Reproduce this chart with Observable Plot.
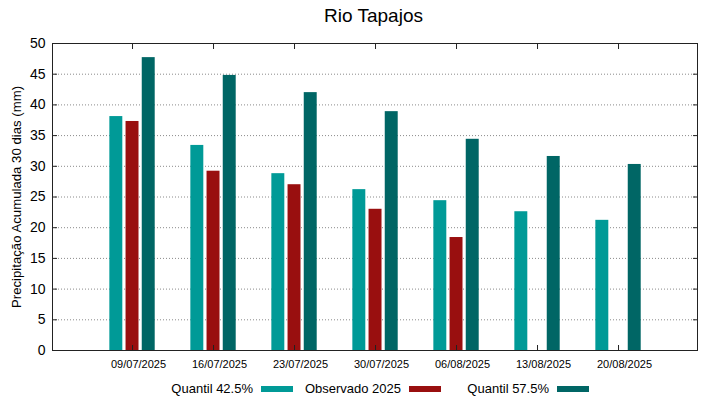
<!DOCTYPE html>
<html><head><meta charset="utf-8">
<script src="https://cdn.jsdelivr.net/npm/d3@7"></script>
<script src="https://cdn.jsdelivr.net/npm/@observablehq/plot@0.6"></script>
<style>
body{margin:0;background:#fff;font-family:"Liberation Sans",Arial,sans-serif;color:#000;}
#title{width:691px;padding-left:28px;height:30px;line-height:32px;font-size:19px;text-align:center;}
#legend{height:21px;line-height:21px;font-size:13px;display:flex;padding-left:153px;}
.item{width:148px;display:flex;align-items:center;}
.lab{width:100px;text-align:right;margin-right:8px;white-space:nowrap;}
.sw{width:32px;height:6px;}
</style></head><body>
<div id="title">Rio Tapajos</div>
<div id="chart"></div>
<div id="legend"></div>
<script>
const dates = ["09/07/2025","16/07/2025","23/07/2025","30/07/2025","06/08/2025","13/08/2025","20/08/2025"];
const series = ["Quantil 42.5%","Observado 2025","Quantil 57.5%"];
const colors = ["#009a97","#990f0f","#006665"];
const q425 = [38.1,33.4,28.8,26.2,24.4,22.6,21.2];
const obs = [37.3,29.2,27.0,23.0,18.4,null,null];
const q575 = [47.7,44.8,42.0,38.9,34.4,31.6,30.3];
const yTicks = [0,5,10,15,20,25,30,35,40,45,50];
const yLabel = "Precipitação Acumulada 30 dias (mm)";

const values = [q425, obs, q575];
const rows = [];
dates.forEach((dt, i) => values.forEach((arr, j) => {
  if (arr[i] != null) rows.push({i, j, date: dt, series: series[j], value: arr[i]});
}));
const idx = dates.map((d, i) => i);
const barStep = 0.2, barW = 0.16;

const chart = Plot.plot({
  width: 719, height: 348,
  marginTop: 13, marginBottom: 28, marginLeft: 52, marginRight: 22,
  style: {fontFamily: "Liberation Sans, Arial, sans-serif", fontSize: "11px", background: "white", color: "#000"},
  x: {type: "linear", domain: [-0.988, 6.975], axis: null},
  y: {domain: [0, 50], axis: null},
  color: {domain: series, range: colors},
  marks: [
    Plot.gridY(yTicks.filter(v => v > 0 && v < 50), {stroke: "#8a8a8a", strokeOpacity: 1, strokeDasharray: "1,2"}),
    Plot.rectY(rows, {
      x1: d => d.i + (d.j - 1) * barStep - barW / 2,
      x2: d => d.i + (d.j - 1) * barStep + barW / 2,
      y: "value", fill: "series"
    }),
    Plot.axisX(idx, {anchor: "bottom", tickSize: 0, tickPadding: 10, fontSize: 11, dx: 6, tickFormat: i => dates[i], label: null}),
    Plot.axisX(idx, {anchor: "bottom", tickSize: -5, tickFormat: () => "", label: null, stroke: "#222"}),
    Plot.axisX(idx, {anchor: "top", tickSize: -5, tickFormat: () => "", label: null, stroke: "#222"}),
    Plot.axisY(yTicks, {anchor: "left", tickSize: 0, tickPadding: 7, fontSize: 14, label: null}),
    Plot.axisY([], {anchor: "left", tickSize: 0, fontSize: 13.2, label: yLabel, labelAnchor: "center", labelOffset: 41, labelArrow: "none"}),
    Plot.axisY(yTicks, {anchor: "left", tickSize: -5, tickFormat: () => "", label: null, stroke: "#222"}),
    Plot.axisY(yTicks, {anchor: "right", tickSize: -5, tickFormat: () => "", label: null, stroke: "#222"}),
    Plot.frame({stroke: "#222"})
  ]
});
document.getElementById("chart").appendChild(chart);

const legend = document.getElementById("legend");
series.forEach((s, j) => {
  const it = document.createElement("div"); it.className = "item";
  const lab = document.createElement("span"); lab.className = "lab"; lab.textContent = s;
  const sw = document.createElement("span"); sw.className = "sw"; sw.style.background = colors[j];
  it.appendChild(lab); it.appendChild(sw); legend.appendChild(it);
});
</script>
</body></html>
